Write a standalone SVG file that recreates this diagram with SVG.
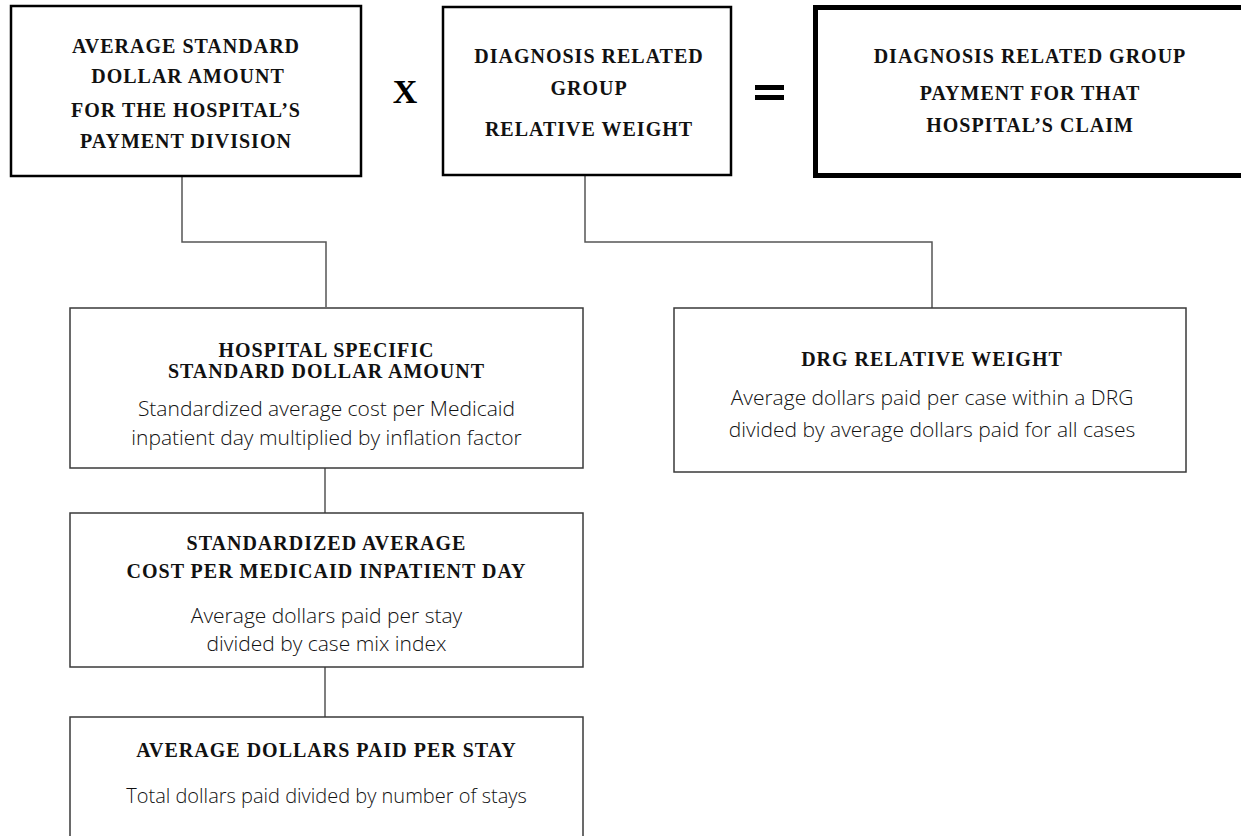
<svg xmlns="http://www.w3.org/2000/svg" width="1241" height="836" viewBox="0 0 1241 836">
<style>
.hd{font-family:"Liberation Serif","Times New Roman",serif;font-weight:bold;font-size:20px;letter-spacing:1px;fill:#111;text-anchor:middle}
.bd{font-family:"Open Sans","Noto Sans",sans-serif;font-weight:300;font-size:21px;fill:#111;text-anchor:middle}
.bd.sm{font-size:20px}
.top{fill:#fff;stroke:#000;stroke-width:2.5}
.box{fill:#fff;stroke:#3a3a3a;stroke-width:1.5}
.op{font-family:"Liberation Serif","Times New Roman",serif;font-weight:bold;fill:#000;text-anchor:middle}
.cn{fill:none;stroke:#555;stroke-width:1.5}
</style>
<rect width="1241" height="836" fill="#fff"/>
<g id="connectors">
<path class="cn" d="M182 177 V242 H326 V307"/>
<path class="cn" d="M585 176 V242 H932 V308"/>
<path class="cn" d="M325 468 V513"/>
<path class="cn" d="M325 667 V717"/>
</g>
<g id="asda">
<rect class="top" x="11" y="6" width="350" height="170"/>
<text class="hd" x="186" y="53">AVERAGE STANDARD</text>
<text class="hd" x="188" y="83">DOLLAR AMOUNT</text>
<text class="hd" x="186" y="117">FOR THE HOSPITAL’S</text>
<text class="hd" x="186" y="148">PAYMENT DIVISION</text>
</g>
<g id="times">
<text class="op" x="405" y="103" font-size="34">X</text>
</g>
<g id="drg">
<rect class="top" x="443" y="7" width="288" height="168"/>
<text class="hd" x="589" y="63">DIAGNOSIS RELATED</text>
<text class="hd" x="589" y="95">GROUP</text>
<text class="hd" x="589" y="136">RELATIVE WEIGHT</text>
</g>
<g id="equals">
<rect x="755" y="85" width="29" height="5" fill="#000"/>
<rect x="755" y="95" width="29" height="5" fill="#000"/>
</g>
<g id="payment">
<rect x="815.5" y="7.5" width="440" height="168" fill="#fff" stroke="#000" stroke-width="5"/>
<text class="hd" x="1030" y="63">DIAGNOSIS RELATED GROUP</text>
<text class="hd" x="1030" y="100">PAYMENT FOR THAT</text>
<text class="hd" x="1030" y="132">HOSPITAL’S CLAIM</text>
</g>
<g id="hssda">
<rect class="box" x="70" y="308" width="513" height="160"/>
<text class="hd" x="326.5" y="357">HOSPITAL SPECIFIC</text>
<text class="hd" x="326.5" y="378">STANDARD DOLLAR AMOUNT</text>
<text class="bd" x="326.5" y="416">Standardized average cost per Medicaid</text>
<text class="bd" x="326.5" y="445">inpatient day multiplied by inflation factor</text>
</g>
<g id="drgweight">
<rect class="box" x="674" y="308" width="512" height="164"/>
<text class="hd" x="932" y="366">DRG RELATIVE WEIGHT</text>
<text class="bd" x="932" y="405">Average dollars paid per case within a DRG</text>
<text class="bd" x="932" y="437">divided by average dollars paid for all cases</text>
</g>
<g id="sacpmid">
<rect class="box" x="70" y="513" width="513" height="154"/>
<text class="hd" x="326.5" y="550">STANDARDIZED AVERAGE</text>
<text class="hd" x="326.5" y="578">COST PER MEDICAID INPATIENT DAY</text>
<text class="bd" x="326.5" y="623">Average dollars paid per stay</text>
<text class="bd" x="326.5" y="651">divided by case mix index</text>
</g>
<g id="adpps">
<rect class="box" x="70" y="717" width="513" height="140"/>
<text class="hd" x="326.5" y="757">AVERAGE DOLLARS PAID PER STAY</text>
<text class="bd sm" x="326.5" y="803">Total dollars paid divided by number of stays</text>
</g>
</svg>
